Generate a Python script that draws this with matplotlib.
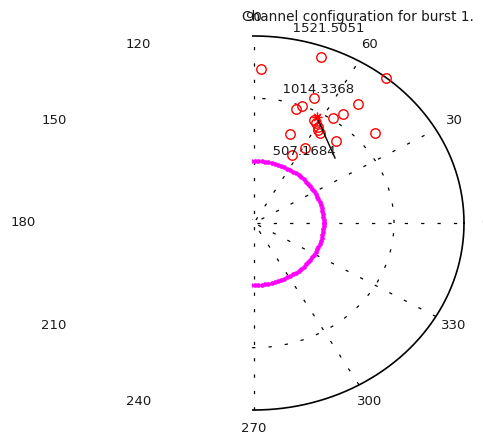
import numpy as np
import matplotlib
matplotlib.use("Agg")
import matplotlib.pyplot as plt

# Channel positions (angle in degrees, radius)
chan_theta = [87.7, 70.2, 51.0, 66.9, 70.1, 71.7, 52.1, 53.8, 56.3, 62.5,
              61.2, 59.6, 58.3, 56.9, 39.7, 69.9, 48.3, 59.1, 64.0]
chan_r = [1256.4, 1432.8, 1521.5051, 1102.9, 1012.2, 978.8, 1226.8, 1094.1,
          1030.3, 940.4, 933.0, 910.0, 889.3, 874.6, 1142.3, 768.6, 893.4,
          712.9, 620.0]

# Burst centre and its direction line
centre_theta = 62.4
centre_r = 977.7
dir_theta = [62.4, 42.0]
dir_r = [977.7, 790.0]

# Reference ring
ring_r = 505.0
ring_n = 130

rmax = 1521.5051
ring_ticks = [507.1684, 1014.3368, 1521.5051]
ring_labels = ["507.1684", "1014.3368", "1521.5051"]
spoke_angles = [0, 30, 60, 90, 120, 150]
angle_labels = ["0", "30", "60", "90", "120", "150",
                "180", "210", "240", "270", "300", "330"]

W, H = 483, 434
fig = plt.figure(figsize=(W / 100, H / 100), dpi=100)
txt_color = "#1a1a1a"
fs = 9.5

# pixel geometry of the polar frame
cx, cy = 254.0, 223.0
rx, ry = 210.0, 187.0
px_l, px_r, px_t, px_b = 252.0, 466.0, 34.0, 412.0
ax = fig.add_axes([px_l / W, (H - px_b) / H, (px_r - px_l) / W, (px_b - px_t) / H])
ax.set_xlim((px_l - cx) / rx * rmax, (px_r - cx) / rx * rmax)
ax.set_ylim(-(px_b - cy) / ry * rmax, (cy - px_t) / ry * rmax)
ax.axis("off")

dots = (0, (2.6, 10.5))
t = np.linspace(0, 2 * np.pi, 361)

# spokes
for a in spoke_angles:
    c, s = np.cos(np.radians(a)), np.sin(np.radians(a))
    ax.plot([-rmax * c, rmax * c], [-rmax * s, rmax * s], color="black",
            lw=0.9, linestyle=dots)

# inner rings dotted, outer ring solid
for rt in ring_ticks[:-1]:
    ax.plot(rt * np.cos(t), rt * np.sin(t), color="black", lw=0.9, linestyle=dots)
ax.plot(rmax * np.cos(t), rmax * np.sin(t), color="black", lw=1.2)

# ring labels along 82 degrees
c82, s82 = np.cos(np.radians(82)), np.sin(np.radians(82))
rinc = ring_ticks[0]
for rt, lab in zip(ring_ticks, ring_labels):
    rr = rt + rinc / 20
    ax.text(rr * c82, rr * s82, "  " + lab, ha="left", va="bottom",
            fontsize=fs, color=txt_color, clip_on=False)

# angle labels
for i, lab in enumerate(angle_labels):
    a = np.radians(30 * i)
    ax.text(1.1 * rmax * np.cos(a), 1.1 * rmax * np.sin(a), lab,
            ha="center", va="center", fontsize=fs, color=txt_color, clip_on=False)

# reference ring of points
rt_theta = np.linspace(0, 2 * np.pi, ring_n)
ax.plot(ring_r * np.cos(rt_theta), ring_r * np.sin(rt_theta), linestyle="none",
        marker="o", ms=3.4, mfc="magenta", mec="magenta", mew=0)

# channels
ct = np.radians(chan_theta)
cr = np.array(chan_r)
ax.plot(cr * np.cos(ct), cr * np.sin(ct), linestyle="none", marker="o",
        ms=6.8, mfc="none", mec="red", mew=1.0)

# centre marker and direction line
dt = np.radians(dir_theta)
dr = np.array(dir_r)
ax.plot(dr * np.cos(dt), dr * np.sin(dt), color="black", lw=1.0)
ax.plot([centre_r * np.cos(np.radians(centre_theta))],
        [centre_r * np.sin(np.radians(centre_theta))],
        marker=(8, 2, 0), ms=7, color="red", mew=0.9, linestyle="none")

fig.text(358 / W, 1 - 17 / H, "Channel configuration for burst 1.",
         ha="center", va="center", fontsize=fs + 0.3, color=txt_color)

fig.savefig("out.png", dpi=100)
